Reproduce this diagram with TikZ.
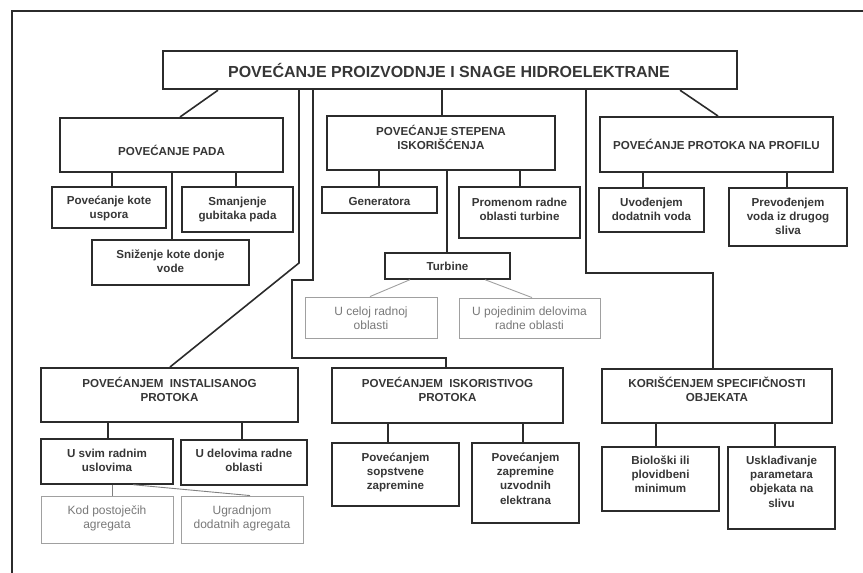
\documentclass[tikz,border=0pt]{standalone}
\usepackage{fontspec}
\setmainfont{Liberation Sans}
\usetikzlibrary{calc}
\definecolor{ink}{HTML}{2B2B2B}
\definecolor{txtc}{HTML}{363636}
\definecolor{lite}{HTML}{A0A0A0}
\definecolor{litetxt}{HTML}{787878}
\tikzset{
  mainbox/.style={draw=ink, line width=2pt, inner sep=0pt},
  subbox/.style={draw=ink, line width=1.4pt, inner sep=0pt},
  litebox/.style={draw=lite, line width=0.9pt, inner sep=0pt},
  conn/.style={draw=ink, line width=1.6pt},
  subconn/.style={draw=ink, line width=1.2pt},
  liteconn/.style={draw=lite, line width=0.9pt},
  frame/.style={draw=ink, line width=1.5pt},
  txt/.style={font=\bfseries\fontsize{11.6}{14.3}\selectfont, text=txtc, align=center, inner sep=0pt, anchor=north},
  ltxt/.style={font=\fontsize{12}{14.3}\selectfont, text=litetxt, align=center, inner sep=0pt, anchor=north},
  titletxt/.style={font=\bfseries\fontsize{16}{18}\selectfont, text=txtc, inner sep=0pt},
}
\newcommand\mytx[5]{\node[#4] (#1) at (#2,{#3-7}) {\rule{0pt}{11pt}#5};}
\begin{document}
\begin{tikzpicture}[x=1pt,y=-1pt]
\useasboundingbox (0,0) rectangle (863,573);
% frame
\coordinate (ftr) at (863,11);
\coordinate (ftl) at (12,11);
\coordinate (fbl) at (12,573);
\draw[frame] (ftr) -- (ftl) -- (fbl);

% boxes
\node[mainbox, line width=2.4pt, minimum width=574pt, minimum height=38pt] (top) at (450,70) {};
\node[titletxt] (topt) at (449,70.5) {POVEĆANJE PROIZVODNJE I SNAGE HIDROELEKTRANE};

\node[mainbox, minimum width=223pt, minimum height=54pt] (pada) at (171.5,145) {};
\node[mainbox, minimum width=228pt, minimum height=54pt] (stepena) at (441,143) {};
\node[mainbox, minimum width=233pt, minimum height=55pt] (profilu) at (716.5,144.5) {};

\node[subbox, minimum width=114pt, minimum height=41pt] (kote) at (109,207.5) {};
\node[subbox, minimum width=111pt, minimum height=45pt] (smanj) at (237.5,209.5) {};
\node[subbox, minimum width=157pt, minimum height=45pt] (sniz) at (170.5,262.5) {};
\node[subbox, minimum width=115pt, minimum height=26pt] (gen) at (379.5,200) {};
\node[subbox, minimum width=121pt, minimum height=51pt] (prom) at (519.5,212.5) {};
\node[subbox, minimum width=125pt, minimum height=26pt] (turb) at (447.5,266) {};
\node[litebox, minimum width=132pt, minimum height=41pt] (celoj) at (371,317.5) {};
\node[litebox, minimum width=141pt, minimum height=40pt] (poj) at (529.5,318) {};
\node[subbox, minimum width=105pt, minimum height=44pt] (uvod) at (651.5,210) {};
\node[subbox, minimum width=118pt, minimum height=58pt] (prev) at (788,217) {};

\node[mainbox, minimum width=257pt, minimum height=54pt] (inst) at (169.5,395) {};
\node[mainbox, minimum width=231pt, minimum height=55pt] (isk) at (447.5,395.5) {};
\node[mainbox, minimum width=230pt, minimum height=54pt] (kor) at (717,396) {};

\node[subbox, minimum width=132pt, minimum height=45pt] (svim) at (107,461.5) {};
\node[subbox, minimum width=126pt, minimum height=45pt] (delov) at (244,462.5) {};
\node[litebox, minimum width=132pt, minimum height=47pt] (kod) at (107,519.5) {};
\node[litebox, minimum width=122pt, minimum height=47pt] (ugr) at (242,519.5) {};
\node[subbox, minimum width=127pt, minimum height=63pt] (sops) at (395.5,474.5) {};
\node[subbox, minimum width=107pt, minimum height=80pt] (uzv) at (525.5,483) {};
\node[subbox, minimum width=117pt, minimum height=64pt] (bio) at (660.5,479) {};
\node[subbox, minimum width=107pt, minimum height=82pt] (uskl) at (781.5,488) {};

% texts
\mytx{padat}{171.5}{151}{txt}{POVEĆANJE PADA}
\mytx{stepenat}{441}{131}{txt}{POVEĆANJE STEPENA\\ISKORIŠĆENJA}
\mytx{profilut}{716.5}{145}{txt}{POVEĆANJE PROTOKA NA PROFILU}
\mytx{kotet}{109}{200}{txt}{Povećanje kote\\uspora}
\mytx{smanjt}{237.5}{201}{txt}{Smanjenje\\gubitaka pada}
\mytx{snizt}{170.5}{254}{txt}{Sniženje kote donje\\vode}
\mytx{gent}{379.5}{201}{txt}{Generatora}
\mytx{promt}{519.5}{202}{txt}{Promenom radne\\oblasti turbine}
\mytx{turbt}{447.5}{266}{txt}{Turbine}
\mytx{celojt}{371}{311}{ltxt}{U celoj\ radnoj\\oblasti}
\mytx{pojt}{529.5}{311}{ltxt}{U\ pojedinim delovima\\radne\ oblasti}
\mytx{uvodt}{651.5}{202}{txt}{Uvođenjem\\dodatnih\ voda}
\mytx{prevt}{788}{202}{txt}{Prevođenjem\\voda iz drugog\\sliva}
\mytx{instt}{169.5}{383}{txt}{POVEĆANJEM\ \ INSTALISANOG\\PROTOKA}
\mytx{iskt}{447.5}{383}{txt}{POVEĆANJEM\ \ ISKORISTIVOG\\PROTOKA}
\mytx{kort}{717}{383}{txt}{KORIŠĆENJEM SPECIFIČNOSTI\\OBJEKATA}
\mytx{svimt}{107}{453}{txt}{U svim radnim\\uslovima}
\mytx{delovt}{244}{453}{txt}{U delovima radne\\oblasti}
\mytx{kodt}{107}{510}{ltxt}{Kod\ postoječih\\agregata}
\mytx{ugrt}{242}{510}{ltxt}{Ugradnjom\\dodatnih\ agregata}
\mytx{sopst}{395.5}{457}{txt}{Povećanjem\\sopstvene\\zapremine}
\mytx{uzvt}{525.5}{457}{txt}{Povećanjem\\zapremine\\uzvodnih\\elektrana}
\mytx{biot}{660.5}{460}{txt}{Biološki ili\\plovidbeni\\minimum}
\mytx{usklt}{781.5}{460}{txt}{Usklađivanje\\parametara\\objekata na\\slivu}

% connectors from top
\draw[conn] (218,0 |- top.south) -- (180,0 |- pada.north);
\draw[conn] (299,0 |- top.south) -- (299,263) -- (170,0 |- inst.north);
\draw[conn] (313,0 |- top.south) -- (313,280) -- (292,280) -- (292,358) -- (446,358) -- (446,0 |- isk.north);
\draw[conn] (442,0 |- top.south) -- (442,0 |- stepena.north);
\draw[conn] (586,0 |- top.south) -- (586,273) -- (713,273) -- (713,0 |- kor.north);
\draw[conn] (680,0 |- top.south) -- (718,0 |- profilu.north);

% second level
\draw[subconn] (112,0 |- pada.south) -- (112,0 |- kote.north);
\draw[subconn] (236,0 |- pada.south) -- (236,0 |- smanj.north);
\draw[subconn] (172,0 |- pada.south) -- (172,0 |- sniz.north);
\draw[subconn] (379,0 |- stepena.south) -- (379,0 |- gen.north);
\draw[subconn] (447,0 |- stepena.south) -- (447,0 |- turb.north);
\draw[subconn] (520,0 |- stepena.south) -- (520,0 |- prom.north);
\draw[liteconn] (410,0 |- turb.south) -- (370,0 |- celoj.north);
\draw[liteconn] (485,0 |- turb.south) -- (532,0 |- poj.north);
\draw[subconn] (643,0 |- profilu.south) -- (643,0 |- uvod.north);
\draw[subconn] (787,0 |- profilu.south) -- (787,0 |- prev.north);

\draw[subconn] (108,0 |- inst.south) -- (108,0 |- svim.north);
\draw[subconn] (242,0 |- inst.south) -- (242,0 |- delov.north);
\draw[liteconn, draw=ink!60] (112,0 |- svim.south) -- (112,0 |- kod.north);
\draw[liteconn, draw=ink!60] (133,0 |- svim.south) -- (250,0 |- ugr.north);
\draw[subconn] (388,0 |- isk.south) -- (388,0 |- sops.north);
\draw[subconn] (523,0 |- isk.south) -- (523,0 |- uzv.north);
\draw[subconn] (656,0 |- kor.south) -- (656,0 |- bio.north);
\draw[subconn] (775,0 |- kor.south) -- (775,0 |- uskl.north);
\end{tikzpicture}
\end{document}
